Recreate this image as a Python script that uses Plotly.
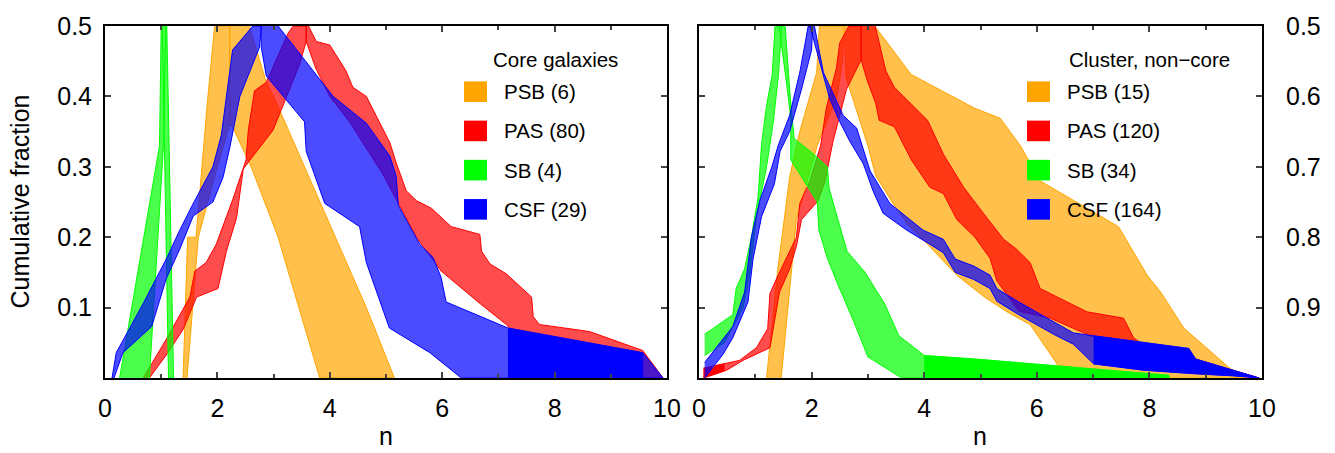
import plotly.graph_objects as go

# Cumulative distributions of Sersic index n, drawn as bands (range of n at each
# cumulative fraction F). The curve is folded at F = 0.5: the rising part uses
# the left axis (F), the falling part the right axis (1 - F).

ORANGE, RED, GREEN, BLUE = "#FFA500", "#FF0000", "#00FF00", "#0000FF"
ALPHA = 0.7
FONT = "Liberation Sans, Arial, sans-serif"

# ---- Core galaxies: (n, F) along the low-n and high-n edge of each band ----
core_psb_lo = [(1.39, 0), (1.47, 0.2), (1.62, 0.2), (1.82, 0.39), (1.95, 0.5),
               (2.22, 0.5), (2.22, 0.64), (2.28, 0.645), (2.60, 0.70), (3.08, 0.80),
               (3.45, 0.90), (3.82, 1.0)]
core_psb_hi = [(1.46, 0), (1.66, 0.2), (2.0, 0.3), (2.22, 0.36), (2.22, 0.5),
               (2.57, 0.5), (2.87, 0.58), (3.0, 0.6), (3.55, 0.7), (4.1, 0.8),
               (4.65, 0.9), (5.15, 1.0)]

core_pas_lo = [(0.68, 0), (1.09, 0.055), (1.51, 0.115), (1.60, 0.152), (1.80, 0.164),
               (1.98, 0.19), (2.28, 0.255), (2.51, 0.31), (2.55, 0.352), (2.66, 0.408),
               (2.87, 0.42), (3.26, 0.49), (3.35, 0.5),
               (3.58, 0.5), (3.58, 0.522), (3.75, 0.56), (4.0, 0.60), (4.35, 0.636),
               (4.94, 0.71), (5.24, 0.755), (5.54, 0.80), (5.98, 0.848), (6.67, 0.894),
               (7.14, 0.924), (8.0, 1.0)]
core_pas_hi = [(0.79, 0), (1.12, 0.036), (1.39, 0.069), (1.63, 0.115), (2.01, 0.127),
               (2.16, 0.18), (2.34, 0.227), (2.46, 0.297), (2.99, 0.352), (3.46, 0.445),
               (3.58, 0.478), (3.58, 0.5),
               (3.62, 0.5), (3.76, 0.522), (4.0, 0.527), (4.29, 0.564), (4.41, 0.587),
               (4.65, 0.60), (5.07, 0.666), (5.18, 0.694), (5.36, 0.734), (5.54, 0.748),
               (5.81, 0.759), (6.16, 0.785), (6.67, 0.796), (6.70, 0.82), (6.85, 0.838),
               (7.14, 0.852), (7.59, 0.885), (7.62, 0.913), (7.73, 0.924), (8.62, 0.934),
               (9.57, 0.961), (9.93, 1.0)]

core_sb_lo = [(0.26, 0), (0.97, 0.33), (1.00, 0.5), (1.02, 0.5), (1.13, 1.0)]
core_sb_hi = [(0.79, 0), (1.04, 0.33), (1.08, 0.5), (1.10, 0.5), (1.22, 1.0)]

core_csf_lo = [(0.125, 0), (0.2, 0.036), (0.68, 0.106), (1.09, 0.169), (1.33, 0.21),
               (1.57, 0.248), (1.92, 0.30), (2.07, 0.345), (2.27, 0.466), (2.63, 0.5),
               (2.78, 0.5), (2.78, 0.53), (2.87, 0.571), (3.55, 0.636), (3.58, 0.678),
               (3.91, 0.752), (4.53, 0.785), (4.65, 0.836), (5.06, 0.929), (5.78, 0.964),
               (6.34, 1.0)]
core_csf_hi = [(0.16, 0), (0.32, 0.036), (0.83, 0.073), (1.09, 0.141), (1.33, 0.183),
               (1.57, 0.23), (1.92, 0.25), (2.10, 0.285), (2.22, 0.327), (2.40, 0.40),
               (2.75, 0.47), (2.78, 0.5),
               (3.08, 0.5), (3.70, 0.564), (4.06, 0.60), (4.65, 0.638), (5.07, 0.685),
               (5.18, 0.713), (5.22, 0.755), (5.6, 0.81), (5.84, 0.829), (5.98, 0.857),
               (6.07, 0.892), (7.17, 0.929), (9.57, 0.964), (9.93, 1.0)]
core_csf_dense = (7.17, 9.57)

# ---- Cluster, non-core ----
nc_psb_lo = [(1.20, 0), (1.40, 0.155), (1.61, 0.285), (1.79, 0.35), (2.09, 0.434), (2.14, 0.5),
             (2.58, 0.5), (2.61, 0.573), (2.82, 0.624), (3.0, 0.67), (3.14, 0.713),
             (3.47, 0.755), (3.71, 0.782), (4.06, 0.81), (4.58, 0.854), (5.07, 0.885),
             (5.47, 0.906), (5.88, 0.924), (6.36, 0.98), (6.45, 1.0)]
nc_psb_hi = [(1.46, 0), (1.73, 0.225), (2.1, 0.33), (2.45, 0.40), (2.55, 0.45), (2.58, 0.5),
             (3.12, 0.5), (3.77, 0.569), (4.90, 0.617), (5.35, 0.631), (5.7, 0.669),
             (6.06, 0.72), (7.45, 0.785), (7.96, 0.854), (8.2, 0.878), (8.61, 0.929),
             (9.44, 0.987), (9.8, 1.0)]

nc_pas_lo = [(0.08, 0.014), (0.72, 0.025), (1.02, 0.043), (1.22, 0.07), (1.26, 0.12),
             (1.40, 0.145), (1.73, 0.20), (1.79, 0.248), (1.97, 0.28), (2.16, 0.33),
             (2.26, 0.383), (2.44, 0.44), (2.50, 0.476), (2.66, 0.5),
             (2.88, 0.5), (2.88, 0.548), (2.99, 0.578), (3.14, 0.61), (3.20, 0.634),
             (3.47, 0.643), (3.77, 0.69), (4.10, 0.729), (4.34, 0.738), (4.58, 0.775),
             (4.90, 0.80), (5.17, 0.83), (5.29, 0.862), (5.50, 0.885), (5.68, 0.905),
             (6.24, 0.915), (6.95, 0.94), (7.78, 0.952), (8.70, 0.961), (8.82, 0.975),
             (9.41, 0.988), (9.95, 1.0)]
nc_pas_hi = [(0.08, 0.0), (0.49, 0.011), (0.78, 0.025), (1.26, 0.043), (1.43, 0.122),
             (1.61, 0.155), (1.73, 0.187), (1.82, 0.225), (2.12, 0.252), (2.24, 0.28),
             (2.38, 0.336), (2.62, 0.41), (2.88, 0.452), (2.88, 0.5),
             (3.13, 0.5), (3.32, 0.564), (3.47, 0.587), (4.06, 0.634), (4.34, 0.682),
             (4.70, 0.729), (5.05, 0.766), (5.41, 0.803), (5.64, 0.817), (5.88, 0.836),
             (6.06, 0.873), (6.29, 0.882), (6.89, 0.906), (7.54, 0.915), (7.72, 0.943),
             (7.84, 0.95), (8.70, 0.959), (8.82, 0.973), (9.41, 0.987), (9.95, 1.0)]
nc_pas_dense_rise = (0.08, 0.45)

nc_sb_lo = [(0.10, 0.062), (0.60, 0.09), (0.66, 0.127), (0.81, 0.155), (0.93, 0.20),
            (1.05, 0.257), (1.11, 0.331), (1.20, 0.387), (1.30, 0.43), (1.35, 0.5),
            (1.42, 0.5), (1.52, 0.56), (1.63, 0.63), (1.63, 0.69), (2.10, 0.75),
            (2.13, 0.79), (2.28, 0.83), (2.46, 0.866), (2.75, 0.92), (3.0, 0.97), (3.6, 1.0)]
nc_sb_hi = [(0.10, 0.032), (0.45, 0.05), (0.78, 0.099), (0.90, 0.146), (1.02, 0.229),
            (1.20, 0.30), (1.32, 0.364), (1.41, 0.429), (1.47, 0.5),
            (1.53, 0.5), (1.62, 0.6), (1.69, 0.66), (2.01, 0.68), (2.28, 0.70),
            (2.31, 0.73), (2.45, 0.77), (2.63, 0.82), (2.95, 0.85), (3.3, 0.895),
            (3.55, 0.94), (4.0, 0.968), (4.9, 0.973), (8.34, 0.996), (8.36, 1.0)]
nc_sb_dense = (4.0, 8.36)

nc_csf_lo = [(0.10, 0.022), (0.60, 0.073), (0.81, 0.122), (0.93, 0.20), (1.08, 0.252),
             (1.29, 0.299), (1.41, 0.331), (1.61, 0.373), (1.79, 0.434), (1.94, 0.5),
             (1.97, 0.5), (2.32, 0.603), (2.50, 0.636), (2.68, 0.664), (2.92, 0.696),
             (3.09, 0.734), (3.27, 0.766), (3.69, 0.79), (4.10, 0.81), (4.34, 0.822),
             (4.55, 0.85), (4.88, 0.86), (5.17, 0.873), (5.29, 0.891), (5.68, 0.91),
             (6.30, 0.938), (6.65, 0.952), (7.01, 0.98), (7.9, 0.989), (8.8, 0.994),
             (9.5, 0.997), (9.95, 1.0)]
nc_csf_hi = [(0.10, 0.0), (0.43, 0.034), (0.60, 0.057), (0.87, 0.108), (0.96, 0.169),
             (1.11, 0.229), (1.34, 0.276), (1.44, 0.322), (1.61, 0.35), (1.82, 0.41),
             (2.0, 0.466), (2.02, 0.5),
             (2.05, 0.5), (2.21, 0.566), (2.56, 0.627), (2.80, 0.645), (3.04, 0.706),
             (3.39, 0.752), (3.98, 0.79), (4.34, 0.803), (4.55, 0.831), (4.88, 0.841),
             (5.17, 0.854), (5.29, 0.873), (5.68, 0.892), (6.30, 0.92), (6.65, 0.936),
             (7.01, 0.94), (7.90, 0.95), (8.70, 0.958), (8.82, 0.973), (9.41, 0.987),
             (9.95, 1.0)]
nc_csf_dense = (7.01, 9.95)

core_labels = ["PSB (6)", "PAS (80)", "SB (4)", "CSF (29)"]
nc_labels = ["PSB (15)", "PAS (120)", "SB (34)", "CSF (164)"]
class_colors = [ORANGE, RED, GREEN, BLUE]

y_tickvals = [0.1, 0.2, 0.3, 0.4, 0.5]
y_left_text = ["0.1", "0.2", "0.3", "0.4", "0.5"]
y_right_text = ["0.9", "0.8", "0.7", "0.6", "0.5"]
x_tickvals = [0, 2, 4, 6, 8, 10]


def rgba(hex_color, a):
    h = hex_color.lstrip("#")
    r, g, b = int(h[0:2], 16), int(h[2:4], 16), int(h[4:6], 16)
    return f"rgba({r},{g},{b},{a})"


def split_edge(edge):
    fs = [f for _, f in edge]
    first = fs.index(0.5)
    last = len(fs) - 1 - fs[::-1].index(0.5)
    return edge[:first + 1], edge[last:]


def band_polygons(lo, hi):
    lo_r, lo_f = split_edge(lo)
    hi_r, hi_f = split_edge(hi)
    rise = [(n, f) for n, f in lo_r + hi_r[::-1]]
    fall = [(n, 1 - f) for n, f in hi_f + lo_f[::-1]]
    return rise, fall


def clip_x(poly, x0, x1):
    def cut(p, q, xb):
        t = (xb - p[0]) / (q[0] - p[0])
        return (xb, p[1] + t * (q[1] - p[1]))

    pts = poly
    for xb, keep_ge in ((x0, True), (x1, False)):
        out = []
        for i in range(len(pts)):
            cur, prev = pts[i], pts[i - 1]
            cin = cur[0] >= xb if keep_ge else cur[0] <= xb
            pin = prev[0] >= xb if keep_ge else prev[0] <= xb
            if cin:
                if not pin:
                    out.append(cut(prev, cur, xb))
                out.append(cur)
            elif pin:
                out.append(cut(prev, cur, xb))
        pts = out
    return pts


fig = go.Figure()


def add_dense(poly, rng, color, xa, ya):
    part = clip_x(poly, rng[0], rng[1])
    fig.add_trace(go.Scatter(x=[p[0] for p in part], y=[p[1] for p in part],
                             mode="lines", fill="toself", fillcolor=color,
                             line=dict(color=color, width=0.5),
                             xaxis=xa, yaxis=ya, showlegend=False, hoverinfo="skip"))


def add_band(lo, hi, color, xa, ya, dense=None, dense_rise=None):
    rise, fall = band_polygons(lo, hi)
    xs = [p[0] for p in rise] + [None] + [p[0] for p in fall]
    ys = [p[1] for p in rise] + [None] + [p[1] for p in fall]
    fig.add_trace(go.Scatter(x=xs, y=ys, mode="lines", fill="toself",
                             fillcolor=rgba(color, ALPHA),
                             line=dict(color=color, width=1),
                             xaxis=xa, yaxis=ya, showlegend=False, hoverinfo="skip"))
    if dense_rise:
        add_dense(rise, dense_rise, color, xa, ya)
    if dense:
        add_dense(fall, dense, color, xa, ya)


add_band(core_psb_lo, core_psb_hi, ORANGE, "x", "y")
add_band(core_pas_lo, core_pas_hi, RED, "x", "y")
add_band(core_sb_lo, core_sb_hi, GREEN, "x", "y")
add_band(core_csf_lo, core_csf_hi, BLUE, "x", "y", core_csf_dense)

add_band(nc_psb_lo, nc_psb_hi, ORANGE, "x2", "y2")
add_band(nc_pas_lo, nc_pas_hi, RED, "x2", "y2", dense_rise=nc_pas_dense_rise)
add_band(nc_sb_lo, nc_sb_hi, GREEN, "x2", "y2", nc_sb_dense)
add_band(nc_csf_lo, nc_csf_hi, BLUE, "x2", "y2", nc_csf_dense)

W, H = 1335, 453
ML, MR, MT, MB = 105, 73, 19, 75
PW, PH = W - ML - MR, H - MT - MB


def px(xp):
    return (xp - ML) / PW


def py(yp):
    return (H - MB - yp) / PH


tick_font = dict(family=FONT, size=25, color="black")
common_x = dict(range=[0, 10], tickvals=x_tickvals, ticks="inside", ticklen=6, tickwidth=2,
                showline=True, linewidth=2, linecolor="black", mirror="allticks",
                showgrid=False, zeroline=False, tickfont=tick_font, ticklabelstandoff=7,
                minor=dict(ticks="inside", dtick=1, ticklen=4, tickwidth=2, showgrid=False))
common_y = dict(range=[0, 0.5], tickvals=y_tickvals, ticks="inside", ticklen=6, tickwidth=2,
                showline=True, linewidth=2, linecolor="black", mirror="allticks",
                showgrid=False, zeroline=False, tickfont=tick_font)

shapes, annotations = [], []


def add_legend(title, title_cx, box_x0, text_x, labels):
    annotations.append(dict(text=title, x=px(title_cx), y=py(53), xref="paper", yref="paper",
                            xanchor="center", yanchor="middle", showarrow=False,
                            font=dict(family=FONT, size=20.5, color="black")))
    for k, (lab, col) in enumerate(zip(labels, class_colors)):
        yc = 86 + 40 * k
        shapes.append(dict(type="rect", xref="paper", yref="paper",
                           x0=px(box_x0), x1=px(box_x0 + 23), y0=py(yc + 10.5), y1=py(yc - 10.5),
                           fillcolor=col, line=dict(width=0)))
        annotations.append(dict(text=lab, x=px(text_x), y=py(yc), xref="paper", yref="paper",
                                xanchor="left", yanchor="middle", showarrow=False,
                                font=dict(family=FONT, size=20.5, color="black")))


add_legend("Core galaxies", 555, 464, 502, core_labels)
add_legend("Cluster, non\u2212core", 1149, 1027, 1065, nc_labels)

annotations.append(dict(text="n", x=px(386), y=py(437), xref="paper", yref="paper",
                        xanchor="center", yanchor="middle", showarrow=False,
                        font=dict(family=FONT, size=25, color="black")))
annotations.append(dict(text="n", x=px(980), y=py(437), xref="paper", yref="paper",
                        xanchor="center", yanchor="middle", showarrow=False,
                        font=dict(family=FONT, size=25, color="black")))
annotations.append(dict(text="Cumulative fraction", x=px(20), y=py(198), xref="paper", yref="paper",
                        xanchor="center", yanchor="middle", showarrow=False, textangle=-90,
                        font=dict(family=FONT, size=25, color="black")))

fig.update_layout(
    width=W, height=H,
    margin=dict(l=ML, r=MR, t=MT, b=MB),
    paper_bgcolor="white", plot_bgcolor="white",
    showlegend=False,
    xaxis=dict(domain=[0, (667 - ML) / PW], anchor="y", **common_x),
    yaxis=dict(anchor="x", ticktext=y_left_text, ticklabelstandoff=6, **common_y),
    xaxis2=dict(domain=[(699 - ML) / PW, 1], anchor="y2", **common_x),
    yaxis2=dict(anchor="x2", side="right", ticktext=y_right_text, ticklabelstandoff=17,
                **common_y),
    shapes=shapes, annotations=annotations,
)

fig.write_html("out.html")
